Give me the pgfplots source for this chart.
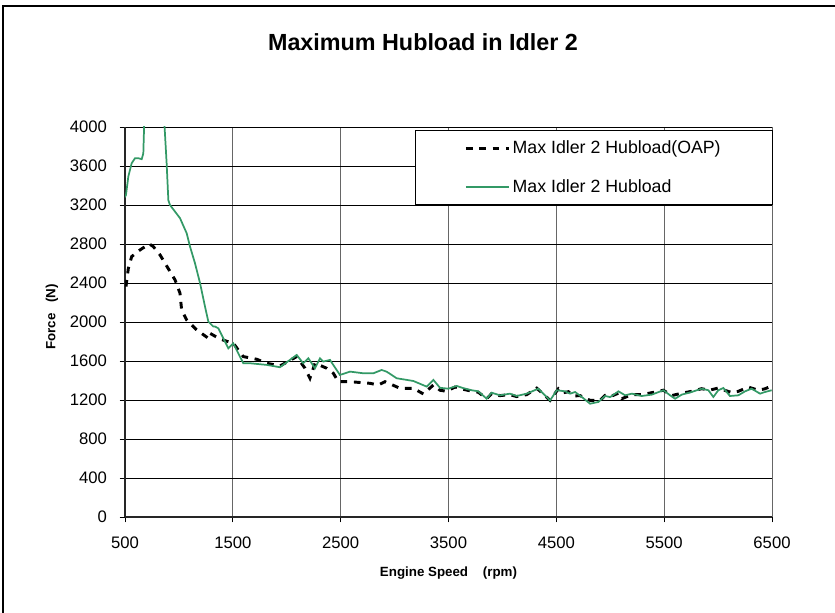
\documentclass[border=0pt]{standalone}
\usepackage{pgfplots}
\pgfplotsset{compat=1.18}
\usepackage{fontspec}
\setmainfont{Liberation Sans}
\definecolor{seagreen}{RGB}{51,153,102}
\begin{document}
\begin{tikzpicture}[x=0.75pt,y=0.75pt]
\path[use as bounding box] (0,0) rectangle (835,613);
\draw[line width=1.1pt] (3,0) -- (3,607) -- (840,607);
\node[font=\bfseries\fontsize{17.5}{20}\selectfont] at (423,571) {Maximum Hubload in Idler 2};
\begin{axis}[
  at={(93.75pt,72pt)}, anchor=south west,
  width=485.25pt, height=292.5pt, scale only axis,
  xmin=500, xmax=6500, ymin=0, ymax=4000,
  xtick={500,1500,...,6500}, ytick={0,400,...,4000},
  axis x line*=bottom, axis y line*=left,
  x axis line style={line width=1.4pt, black!85},
  y axis line style={line width=1pt, black!85},
  tick align=outside, major tick length=4pt,
  tick style={black, line width=0.6pt},
  xmajorgrids, ymajorgrids,
  x grid style={black!60, line width=0.6pt},
  y grid style={black, line width=0.6pt},
  /pgf/number format/assume math mode=true,
  /pgf/number format/1000 sep={},
  ticklabel style={font=\fontsize{12.5}{14}\selectfont},
  yticklabel style={xshift=-6pt},
  xticklabel style={yshift=-7pt},
  xlabel={Engine Speed\ \ \ \ (rpm)},
  ylabel={Force\ \ \ (N)},
  xlabel style={font=\bfseries\fontsize{10}{12}\selectfont, at={(rel axis cs:0.5,-0.1436)}, anchor=center},
  ylabel style={font=\bfseries\fontsize{10}{12}\selectfont, at={(rel axis cs:-0.1128,0.513)}, anchor=center, rotate=0},
  legend style={at={(rel axis cs:0.448,0.992)}, anchor=north west,
    font=\fontsize{13.3}{15}\selectfont, draw=black, line width=0.8pt,
    inner xsep=36.8pt, inner ysep=5.5pt, row sep=14pt, cells={anchor=west}},
  legend image code/.code={\draw[#1] (0pt,0pt) -- (32pt,0pt);},
]
\addplot[black, line width=2.2pt, dash pattern=on 5pt off 5pt] coordinates {
(509,2363) (531,2551) (562,2671) (639,2739) (725,2801) (763,2773) (825,2688)
(871,2603) (964,2432) (1010,2295) (1025,2124) (1072,2021) (1165,1919) (1273,1833)
(1288,1884) (1381,1825) (1505,1781) (1597,1645) (1721,1618) (1814,1577) (1937,1549)
(2092,1645) (2169,1526) (2215,1423) (2262,1577) (2370,1526) (2432,1474) (2478,1388)
(2587,1388) (2772,1371) (2849,1354) (2911,1388) (3050,1320) (3174,1320) (3267,1262)
(3360,1354) (3421,1300) (3483,1289) (3560,1333) (3637,1310) (3715,1290) (3776,1280)
(3854,1213) (3900,1265) (3977,1245) (4070,1255) (4132,1235) (4225,1255) (4318,1322)
(4442,1196) (4519,1316) (4566,1275) (4612,1285) (4658,1241) (4720,1245) (4813,1196)
(4906,1196) (4952,1248) (5014,1241) (5076,1270) (5107,1213) (5200,1255) (5292,1255)
(5385,1275) (5493,1300) (5570,1245) (5663,1270) (5755,1289) (5848,1316) (5920,1300)
(6002,1323) (6060,1300) (6130,1275) (6188,1289) (6280,1333) (6373,1300) (6435,1315)
(6497,1344)
};
\addlegendentry{Max Idler 2 Hubload(OAP)}
\addplot[seagreen, line width=1.3pt] coordinates {
(500,3280) (509,3303) (531,3492) (562,3629) (593,3680) (623,3680) (655,3670) (670,3730)
(690,4500) (780,4700) (855,4500) (862,4100) (886,3630) (902,3250) (917,3200) (964,3132)
(1010,3065) (1072,2910) (1103,2773) (1149,2603) (1196,2398) (1242,2158) (1273,2004)
(1319,1953) (1335,1953) (1366,1935) (1458,1730) (1504,1781) (1597,1577) (1659,1577)
(1814,1560) (1937,1536) (2092,1662) (2153,1577) (2200,1628) (2262,1526) (2308,1628)
(2339,1594) (2401,1611) (2493,1457) (2587,1491) (2710,1474) (2803,1474) (2880,1508)
(2926,1491) (3019,1423) (3174,1395) (3298,1337) (3360,1406) (3421,1325) (3498,1316)
(3576,1344) (3637,1322) (3715,1300) (3776,1289) (3854,1213) (3900,1275) (3977,1248)
(4070,1265) (4132,1241) (4225,1265) (4333,1316) (4442,1196) (4504,1300) (4581,1289)
(4627,1265) (4674,1282) (4736,1231) (4813,1162) (4890,1180) (4952,1241) (4999,1230)
(5076,1289) (5138,1248) (5200,1265) (5292,1241) (5385,1255) (5493,1300) (5555,1248)
(5601,1213) (5663,1255) (5755,1282) (5848,1316) (5910,1300) (5956,1231) (6002,1300)
(6049,1323) (6110,1241) (6188,1248) (6250,1289) (6311,1316) (6389,1265) (6435,1282)
(6497,1300)
};
\addlegendentry{Max Idler 2 Hubload}
\end{axis}
\end{tikzpicture}
\end{document}
